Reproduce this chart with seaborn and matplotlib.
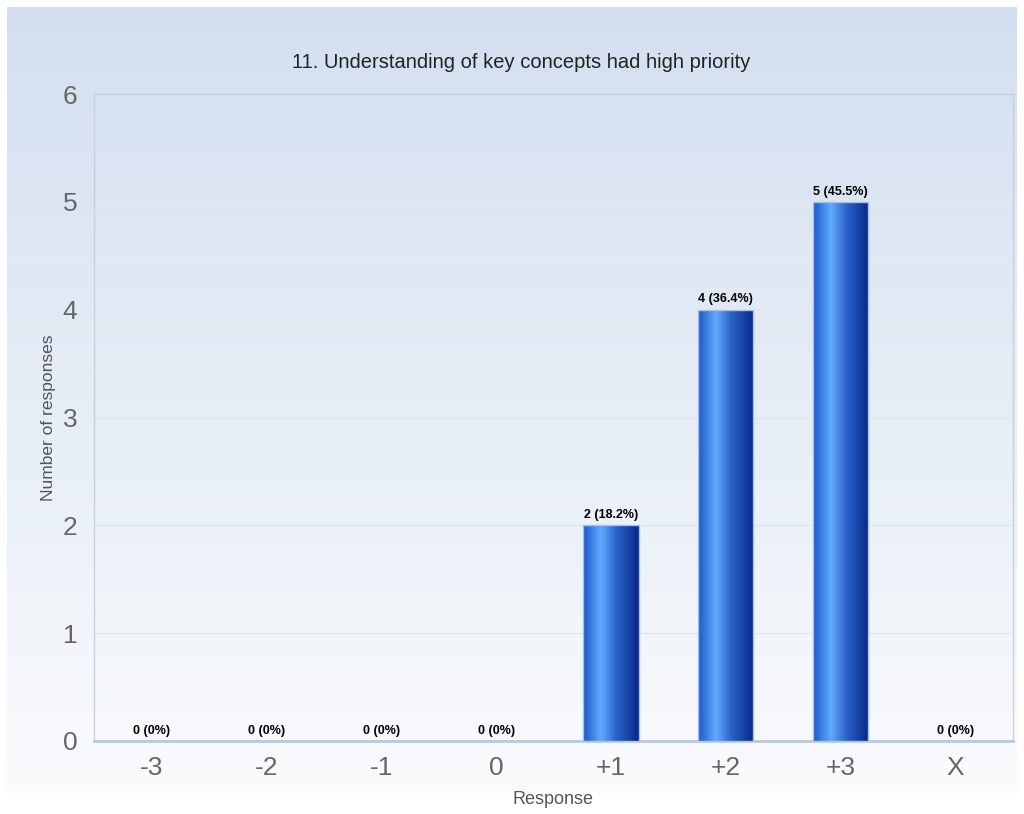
import numpy as np
import pandas as pd
import matplotlib
matplotlib.use("Agg")
import matplotlib.pyplot as plt
from matplotlib.colors import LinearSegmentedColormap
import seaborn as sns

# Survey results
categories = ["-3", "-2", "-1", "0", "+1", "+2", "+3", "X"]
counts = [0, 0, 0, 0, 2, 4, 5, 0]
labels = ["0 (0%)", "0 (0%)", "0 (0%)", "0 (0%)", "2 (18.2%)", "4 (36.4%)", "5 (45.5%)", "0 (0%)"]
title = "11. Understanding of key concepts had high priority"

df = pd.DataFrame({"Response": categories, "Count": counts})

sns.set_theme(style="white")
plt.rcParams["font.family"] = ["Liberation Sans", "DejaVu Sans"]

W, H = 1024, 814
fig = plt.figure(figsize=(W / 100, H / 100), dpi=100)
fig.patch.set_facecolor("white")

# Gradient panel behind the chart
bg = fig.add_axes([7 / W, 21 / H, 1010 / W, 786 / H], zorder=0)
bg_cmap = LinearSegmentedColormap.from_list("bg", ["#d3dff0", "#e6edf6", "#fafbfd"])
bg.imshow(np.linspace(0, 1, 256).reshape(-1, 1), aspect="auto", cmap=bg_cmap,
          extent=[0, 1, 0, 1], origin="upper")
bg.set_axis_off()

ax = fig.add_axes([94 / W, 1 - 741 / H, (1013 - 94) / W, (741 - 94) / H], zorder=1)
ax.patch.set_alpha(0)

sns.barplot(data=df, x="Response", y="Count", order=categories, width=0.48,
            color="#2a6ad8", ax=ax, zorder=3)

ax.set_ylim(0, 6)
ax.set_xlim(-0.5, len(categories) - 0.5)
ax.set_yticks(range(0, 7))

# Horizontal shaded bars
bar_cmap = LinearSegmentedColormap.from_list(
    "bar", [(0.0, "#1a58c8"), (0.32, "#62aaff"), (0.6, "#2a62c8"), (1.0, "#08278a")])
grad = np.linspace(0, 1, 256).reshape(1, -1)
for patch in ax.patches:
    x0, y0 = patch.get_x(), patch.get_y()
    w, h = patch.get_width(), patch.get_height()
    if h <= 0:
        patch.set_visible(False)
        continue
    im = ax.imshow(grad, aspect="auto", cmap=bar_cmap, extent=[x0, x0 + w, y0, y0 + h],
                   zorder=3, interpolation="bilinear")
    im.set_clip_path(patch)
    patch.set_facecolor("none")
    patch.set_edgecolor("#a8c0e8")
    patch.set_linewidth(1.0)
    patch.set_zorder(4)

ax.set_xlim(-0.5, len(categories) - 0.5)
ax.set_ylim(0, 6)

# Value labels
for i, (c, lab) in enumerate(zip(counts, labels)):
    ax.text(i, c + 0.04, lab, ha="center", va="bottom", fontsize=9,
            fontweight="bold", color="black", zorder=5)

ax.grid(axis="y", color="#e2e6ec", linewidth=1.0, zorder=0)
ax.set_axisbelow(True)
for side in ["top", "right", "left"]:
    ax.spines[side].set_color("#c8d0dc")
    ax.spines[side].set_linewidth(1.0)
ax.spines["bottom"].set_color("#b8c8e0")
ax.spines["bottom"].set_linewidth(2.0)

ax.tick_params(axis="both", length=0, labelsize=19, labelcolor="#666666")
ax.tick_params(axis="x", pad=11)
ax.tick_params(axis="y", pad=12)
ax.set_xlabel("Response", fontsize=13, color="#555555", labelpad=8)
ax.set_ylabel("Number of responses", fontsize=12.5, color="#555555", labelpad=5)

fig.text(521 / W, 1 - 62 / H, title, ha="center", va="center",
         fontsize=14.5, color="#222222")

fig.savefig("out.png", dpi=100)
